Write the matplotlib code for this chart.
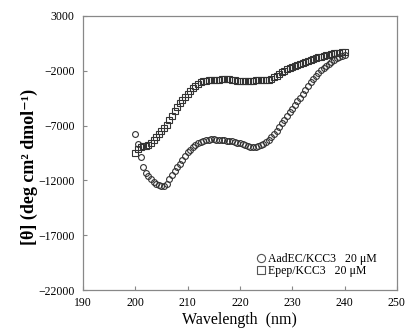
import numpy as np
import matplotlib
matplotlib.use('Agg')
import matplotlib.pyplot as plt

# wavelength grid (nm), 0.5 nm steps
wavelength = np.arange(200.0, 240.01, 0.5)

# AadEC/KCC3 20 uM
aadec = [-7800, -8700, -9900, -10800, -11300, -11600, -11900, -12150, -12300, -12450,
         -12550, -12550, -12300, -11900, -11500, -11150, -10800, -10500, -10100, -9750,
         -9450, -9200, -8950, -8750, -8600, -8450, -8380, -8320, -8280, -8260,
         -8250, -8270, -8300, -8330, -8350, -8380, -8400, -8420, -8480, -8550,
         -8620, -8700, -8780, -8850, -8920, -8980, -8950, -8870, -8760, -8650,
         -8480, -8280, -8050, -7800, -7500, -7150, -6800, -6450, -6100, -5800,
         -5500, -5150, -4800, -4450, -4100, -3750, -3400, -3050, -2750, -2450,
         -2200, -1950, -1750, -1550, -1350, -1180, -1000, -850, -720, -620,
         -550]

# Epep/KCC3 20 uM
epep = [-9500, -9100, -8950, -8900, -8880, -8750, -8550, -8300, -8050, -7800,
        -7500, -7200, -6900, -6500, -6100, -5700, -5300, -4950, -4650, -4350,
        -4100, -3850, -3600, -3400, -3200, -3050, -2950, -2900, -2870, -2860,
        -2850, -2830, -2800, -2780, -2760, -2750, -2760, -2800, -2880, -2950,
        -2970, -2950, -2930, -2920, -2900, -2890, -2880, -2880, -2880, -2870,
        -2850, -2820, -2750, -2600, -2450, -2300, -2150, -2000, -1880, -1780,
        -1680, -1580, -1480, -1380, -1280, -1180, -1080, -1000, -920, -850,
        -780, -710, -650, -590, -530, -470, -420, -380, -340, -310,
        -290]

xticks = [190, 200, 210, 220, 230, 240, 250]
yticks = [-22000, -17000, -12000, -7000, -2000, 3000]

plt.rcParams['font.family'] = ['Liberation Serif', 'DejaVu Serif']

fig = plt.figure(figsize=(4.07, 3.33), dpi=100)
ax = fig.add_axes([0.204, 0.129, 0.771, 0.823])

ax.plot(wavelength, aadec, 'o', ms=4.2, mfc='none', mec='#333333', mew=0.8,
        label='AadEC/KCC3   20 \u03bcM')
ax.plot(wavelength, epep, 's', ms=4.0, mfc='none', mec='#333333', mew=0.8,
        label='Epep/KCC3   20 \u03bcM')

ax.set_xlim(190, 250)
ax.set_ylim(-22000, 3000)
ax.set_xticks(xticks)
ax.set_yticks(yticks)
ax.tick_params(direction='in', length=3, width=0.8, color='#888888',
               labelsize=8.5)
ax.tick_params(axis='y', pad=6)
ax.tick_params(axis='x', pad=5)
for s in ax.spines.values():
    s.set_color('#888888')
    s.set_linewidth(0.9)

ax.set_xlabel('Wavelength  (nm)', fontsize=11.5, labelpad=2)
ax.set_ylabel('[\u03b8] (deg cm\u00b2 dmol\u207b\u00b9)', fontsize=13,
              fontweight='bold')
ax.yaxis.set_label_coords(-0.145, 0.45)

leg = ax.legend(loc='lower right', frameon=False, fontsize=8.5, handletextpad=0.15,
                handlelength=0.9, labelspacing=0.0, borderaxespad=0.0,
                markerscale=1.4, bbox_to_anchor=(0.95, 0.03))
for h in leg.legend_handles:
    h.set_markeredgecolor('#555555')

fig.savefig('out.png', dpi=100)
